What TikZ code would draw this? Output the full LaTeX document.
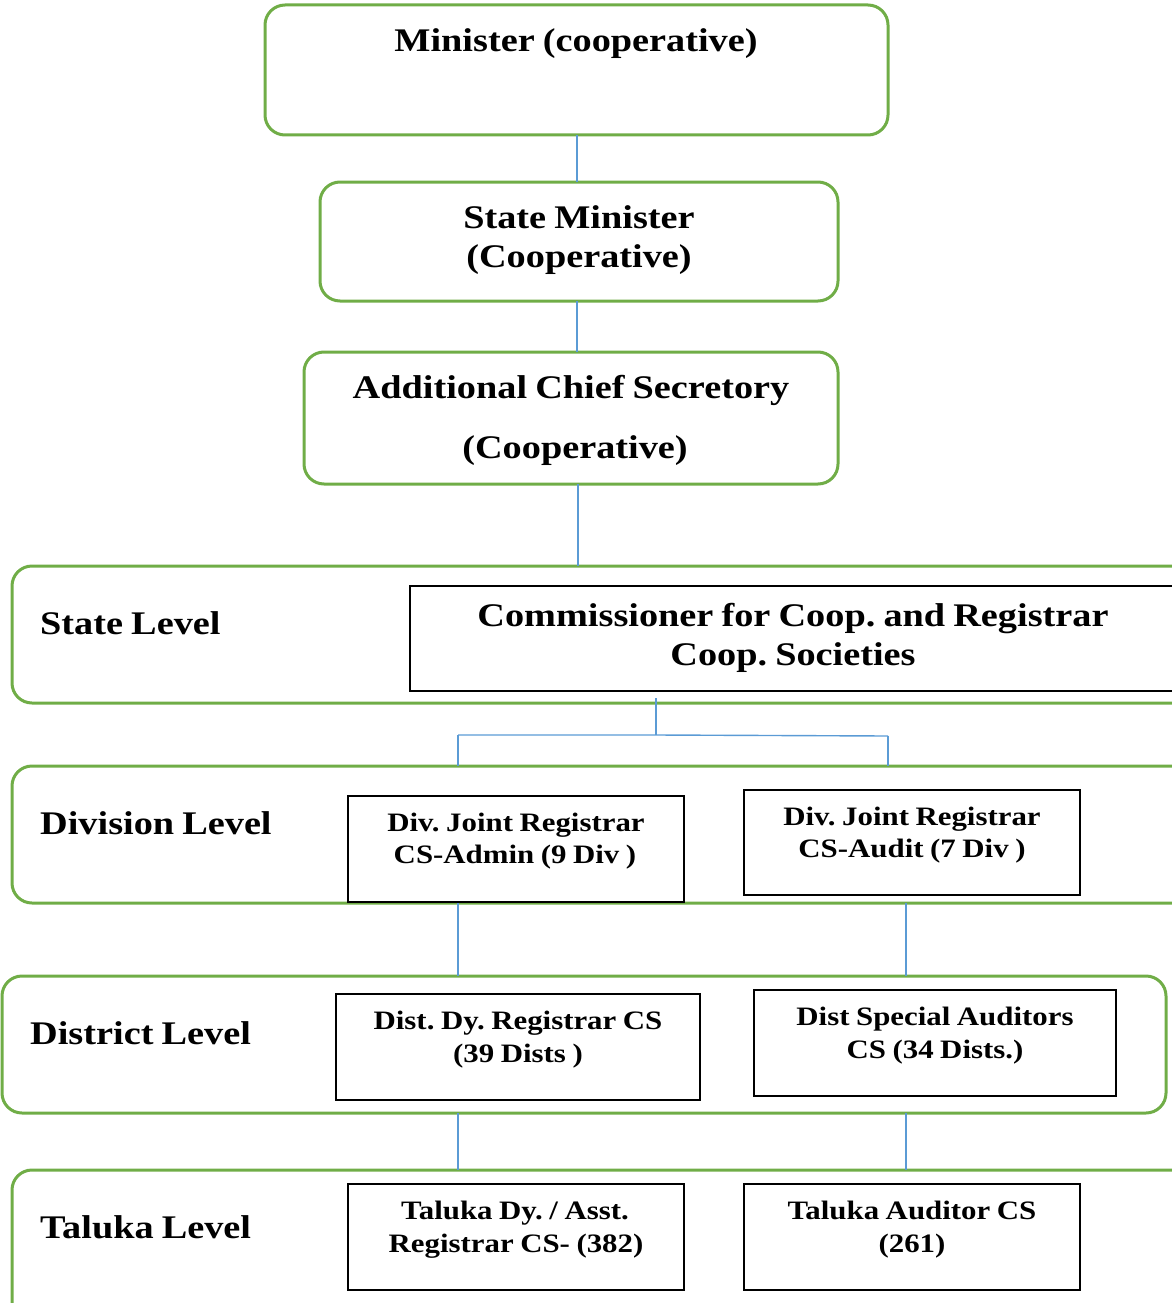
\documentclass[tikz,border=0pt]{standalone}
\usepackage{fontspec}
\setmainfont[FakeStretch=1.16, WordSpace=0.85]{Liberation Serif}
\frenchspacing
\definecolor{frameGreen}{HTML}{70AD47}
\definecolor{linkBlue}{HTML}{5B9BD5}
\tikzset{
  greenbox/.style={draw=frameGreen, line width=3pt, rounded corners=20pt,
    rectangle, outer sep=0pt, inner sep=0pt},
  blackbox/.style={draw=black, line width=2pt, fill=white, rectangle,
    outer sep=0pt, inner sep=0pt},
  link/.style={draw=linkBlue, line width=1.4pt},
  bigtxt/.style={anchor=base, inner sep=0pt, font=\fontsize{33}{39}\selectfont\bfseries},
  smalltxt/.style={anchor=base, inner sep=0pt, font=\fontsize{26.6}{32}\selectfont\bfseries},
  leveltxt/.style={anchor=base west, inner sep=0pt, font=\fontsize{33}{39}\selectfont\bfseries}
}
\begin{document}
\begin{tikzpicture}[x=1pt, y=-1pt]
\useasboundingbox (0,0) rectangle (1171,1303);

% top of the hierarchy
\node[greenbox, minimum width=623pt, minimum height=130pt] (min) at (576.5,70) {};
\node[greenbox, minimum width=518pt, minimum height=119pt] (smin) at (579,241.5) {};
\node[greenbox, minimum width=534pt, minimum height=132pt] (acs) at (571,418) {};

% level bands
\node[greenbox, minimum width=1188pt, minimum height=137pt] (stateband) at (606,634.5) {};
\node[greenbox, minimum width=1188pt, minimum height=137pt] (divband) at (606,834.5) {};
\node[greenbox, minimum width=1164pt, minimum height=137pt] (distband) at (584,1044.5) {};
\node[greenbox, minimum width=1188pt, minimum height=160pt] (talband) at (606,1250) {};

% offices
\node[blackbox, minimum width=790pt, minimum height=105pt] (comm) at (805,638.5) {};
\node[blackbox, minimum width=336pt, minimum height=106pt] (divA) at (516,849) {};
\node[blackbox, minimum width=336pt, minimum height=105pt] (divB) at (912,842.5) {};
\node[blackbox, minimum width=364pt, minimum height=106pt] (distA) at (518,1047) {};
\node[blackbox, minimum width=362pt, minimum height=106pt] (distB) at (935,1043) {};
\node[blackbox, minimum width=336pt, minimum height=106pt] (talA) at (516,1237) {};
\node[blackbox, minimum width=336pt, minimum height=106pt] (talB) at (912,1237) {};

% texts
\node[bigtxt] (tmin) at (576,52) {Minister (cooperative)};
\node[bigtxt] (tsmin1) at (579,228) {State Minister};
\node[bigtxt] (tsmin2) at (579,267) {(Cooperative)};
\node[bigtxt] (tacs1) at (571,398) {Additional Chief Secretory};
\node[bigtxt] (tacs2) at (575,458) {(Cooperative)};
\node[bigtxt] (tcomm1) at (793,626) {Commissioner for Coop. and Registrar};
\node[bigtxt] (tcomm2) at (793,665) {Coop. Societies};

\node[leveltxt] (lstate) at (40,634) {State Level};
\node[leveltxt] (ldiv) at (40,834) {Division Level};
\node[leveltxt] (ldist) at (30,1044) {District Level};
\node[leveltxt] (ltal) at (40,1238) {Taluka Level};

\node[smalltxt] (tdivA1) at (516,831) {Div. Joint Registrar};
\node[smalltxt] (tdivA2) at (515,863) {CS-Admin (9 Div )};
\node[smalltxt] (tdivB1) at (912,825) {Div. Joint Registrar};
\node[smalltxt] (tdivB2) at (912,857) {CS-Audit (7 Div )};
\node[smalltxt] (tdistA1) at (518,1029) {Dist. Dy. Registrar CS};
\node[smalltxt] (tdistA2) at (518,1062) {(39 Dists )};
\node[smalltxt] (tdistB1) at (935,1025) {Dist Special Auditors};
\node[smalltxt] (tdistB2) at (935,1058) {CS (34 Dists.)};
\node[smalltxt] (ttalA1) at (515,1219) {Taluka Dy. / Asst.};
\node[smalltxt] (ttalA2) at (516,1252) {Registrar CS- (382)};
\node[smalltxt] (ttalB1) at (912,1219) {Taluka Auditor CS};
\node[smalltxt] (ttalB2) at (912,1252) {(261)};

% connectors
\coordinate (topcol) at (577,0);
\coordinate (acscol) at (578,0);
\coordinate (drop) at (656,698);
\coordinate (hub) at (656,735);
\coordinate (lt) at (458,735);
\coordinate (rt) at (888,736);
\coordinate (colA) at (458,0);
\coordinate (colB) at (906,0);

\draw[link] (min.south -| topcol) -- (smin.north -| topcol);
\draw[link] (smin.south -| topcol) -- (acs.north -| topcol);
\draw[link] (acs.south -| acscol) -- (stateband.north -| acscol);
\draw[link] (drop) -- (hub);
\draw[link] (lt) -- (hub) -- (rt);
\draw[link] (lt) -- (lt |- divband.north);
\draw[link] (rt) -- (rt |- divband.north);
\draw[link] (divband.south -| colA) -- (distband.north -| colA);
\draw[link] (divband.south -| colB) -- (distband.north -| colB);
\draw[link] (distband.south -| colA) -- (talband.north -| colA);
\draw[link] (distband.south -| colB) -- (talband.north -| colB);
\end{tikzpicture}
\end{document}
